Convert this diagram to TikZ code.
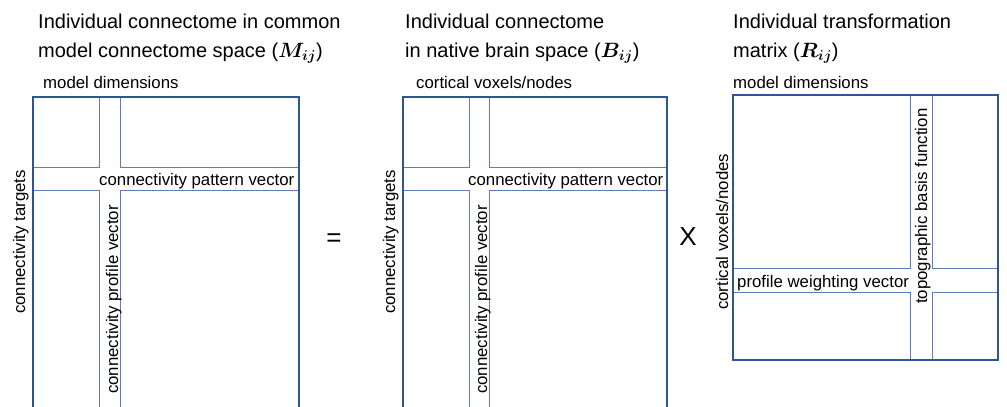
\documentclass[tikz,border=0pt]{standalone}
\usepackage{fontspec}
\setmainfont{Liberation Sans}
\usepackage{amsmath,bm}
\definecolor{boxblue}{RGB}{47,85,151}
\definecolor{lineblue}{RGB}{95,125,190}
\tikzset{
  title/.style={font=\fontsize{20}{24}\selectfont, anchor=base west, inner sep=0pt},
  lbl/.style={font=\fontsize{16.8}{20}\selectfont, anchor=base west, inner sep=0pt},
  vlbl/.style={lbl, rotate=90},
  optext/.style={font=\fontsize{26}{30}\selectfont, inner sep=0pt},
  outerbox/.style={draw=boxblue, line width=2pt},
  cellbox/.style={draw=lineblue, line width=0.9pt},
}
\begin{document}
\begin{tikzpicture}[x=1pt, y=-1pt]
    \useasboundingbox (0,0) rectangle (1007,407);

    % Titles
    \node[title] (mtitle) at (38,28) {Individual connectome in common};
    \node[title] (mtitleb) at (38,57) {model connectome space ($\bm{M_{ij}}$)};
    \node[title] (btitle) at (405,28) {Individual connectome};
    \node[title] (btitleb) at (405,57) {in native brain space ($\bm{B_{ij}}$)};
    \node[title] (rtitle) at (733,28) {Individual transformation};
    \node[title] (rtitleb) at (733,57) {matrix ($\bm{R_{ij}}$)};

    % Column labels above the boxes
    \node[lbl] (mcols) at (43,88) {model dimensions};
    \node[lbl] (bcols) at (416,88) {cortical voxels/nodes};
    \node[lbl] (rcols) at (733,88) {model dimensions};

    % Model connectome: quadrants, then the outer box
    \draw[cellbox] (33,97) rectangle (99,167);
    \draw[cellbox] (120,97) rectangle (299,167);
    \draw[cellbox] (33,190) rectangle (99,420);
    \draw[cellbox] (120,190) rectangle (299,420);
    \draw[outerbox] (33,97) rectangle (299,420);

    % Native connectome
    \draw[cellbox] (403,97) rectangle (469,167);
    \draw[cellbox] (489,97) rectangle (667,167);
    \draw[cellbox] (403,190) rectangle (469,420);
    \draw[cellbox] (489,190) rectangle (667,420);
    \draw[outerbox] (403,97) rectangle (667,420);

    % Transformation matrix
    \draw[cellbox] (733,95) rectangle (910,268);
    \draw[cellbox] (932,95) rectangle (998,268);
    \draw[cellbox] (733,292) rectangle (910,360);
    \draw[cellbox] (932,292) rectangle (998,360);
    \draw[outerbox] (733,95) rectangle (998,360);

    % Labels inside and beside the boxes
    \node[lbl] (mpattern) at (99,185) {connectivity pattern vector};
    \node[vlbl] (mprofile) at (118,394) {connectivity profile vector};
    \node[vlbl] (mrows) at (25,314) {connectivity targets};
    \node[lbl] (bpattern) at (468,185) {connectivity pattern vector};
    \node[vlbl] (bprofile) at (487,394) {connectivity profile vector};
    \node[vlbl] (brows) at (395,314) {connectivity targets};
    \node[lbl] (rweight) at (737,287) {profile weighting vector};
    \node[vlbl] (rbasis) at (927,304) {topographic basis function};
    \node[vlbl] (rrows) at (728,310) {cortical voxels/nodes};

    % Operators
    \node[optext] (equals) at (334,240) {=};
    \node[optext] (times) at (688,237) {X};
\end{tikzpicture}
\end{document}
